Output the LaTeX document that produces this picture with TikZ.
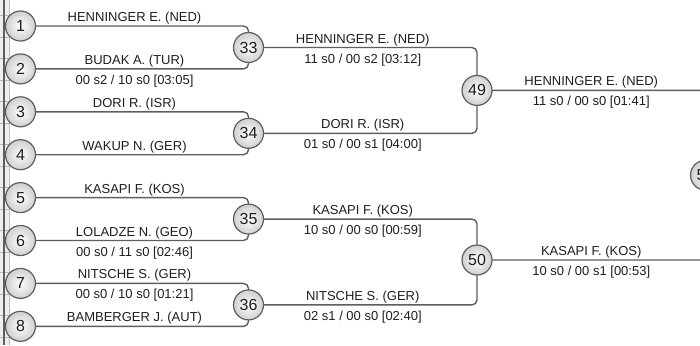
\documentclass[tikz,border=0pt]{standalone}
\usepackage{fontspec}
\setmainfont{Liberation Sans}
\usepackage{xcolor}
\usetikzlibrary{backgrounds}

\definecolor{linegray}{HTML}{5E5E5E}
\definecolor{ballgray}{HTML}{CFCFCF}
\definecolor{stripgray}{HTML}{EEEEEE}
\definecolor{textgray}{HTML}{1E1E1E}

\begin{document}
\begin{tikzpicture}[x=1bp,y=-1bp]
	\tikzstyle{ball}=[circle,draw=linegray,line width=1.2bp,inner color=white,outer color=ballgray,minimum size=30bp,inner sep=0pt,text=textgray,font=\fontsize{16bp}{16bp}\selectfont]
	\tikzstyle{link}=[draw=linegray,line width=1.4bp,rounded corners=5bp]
	\tikzstyle{player}=[anchor=base,yshift=4.5bp,inner sep=0pt,text=textgray,font=\fontsize{13bp}{13bp}\selectfont]
	\tikzstyle{result}=[anchor=base,yshift=-15.5bp,inner sep=0pt,text=textgray,font=\fontsize{13bp}{13bp}\selectfont]
	\useasboundingbox (0,0) rectangle (700,345);
	\clip (0,0) rectangle (700,345);

	% first round
	\node[ball](m1) at (20.5,26) {1};
	\node[ball](m2) at (20.5,68.9) {2};
	\node[ball](m3) at (20.5,111.8) {3};
	\node[ball](m4) at (20.5,154.7) {4};
	\node[ball](m5) at (20.5,197.6) {5};
	\node[ball](m6) at (20.5,240.5) {6};
	\node[ball](m7) at (20.5,283.4) {7};
	\node[ball](m8) at (20.5,326.3) {8};
	% second round
	\node[ball](m33) at (248.5,47.5) {33};
	\node[ball](m34) at (248.5,133.3) {34};
	\node[ball](m35) at (248.5,219.1) {35};
	\node[ball](m36) at (248.5,304.9) {36};
	% third round
	\node[ball](m49) at (477,90.4) {49};
	\node[ball](m50) at (477,260) {50};
	\node[ball](m57) at (705.5,175.2) {57};

	\begin{scope}[on background layer]
		\clip (0,0) rectangle (700,345);
		% strip on the left
		\fill[stripgray] (0,0) rectangle (9,345);
		\draw[linegray!40,line width=0.6bp] (9,0) -- (9,345);
		\foreach \y in {15,37,58,80,101,123,144,166,187,209,230,252,272,294,315,337}
			\draw[linegray!45,line width=0.6bp] (0,\y) -- (9,\y);
		\draw[linegray,line width=1.2bp] (4,0) -- (4,345);

		\draw[link] (m1.center) -| (m33.center) node[pos=0.25,player]{HENNINGER E. (NED)};
		\draw[link] (m2.center) -| (m33.center) node[pos=0.25,player]{BUDAK A. (TUR)} node[pos=0.25,result]{00 s2 / 10 s0 [03:05]};
		\draw[link] (m3.center) -| (m34.center) node[pos=0.25,player]{DORI R. (ISR)};
		\draw[link] (m4.center) -| (m34.center) node[pos=0.25,player]{WAKUP N. (GER)};
		\draw[link] (m5.center) -| (m35.center) node[pos=0.25,player]{KASAPI F. (KOS)};
		\draw[link] (m6.center) -| (m35.center) node[pos=0.25,player]{LOLADZE N. (GEO)} node[pos=0.25,result]{00 s0 / 11 s0 [02:46]};
		\draw[link] (m7.center) -| (m36.center) node[pos=0.25,player]{NITSCHE S. (GER)} node[pos=0.25,result]{00 s0 / 10 s0 [01:21]};
		\draw[link] (m8.center) -| (m36.center) node[pos=0.25,player]{BAMBERGER J. (AUT)};

		\draw[link] (m33.center) -| (m49.center) node[pos=0.25,player]{HENNINGER E. (NED)} node[pos=0.25,result]{11 s0 / 00 s2 [03:12]};
		\draw[link] (m34.center) -| (m49.center) node[pos=0.25,player]{DORI R. (ISR)} node[pos=0.25,result]{01 s0 / 00 s1 [04:00]};
		\draw[link] (m35.center) -| (m50.center) node[pos=0.25,player]{KASAPI F. (KOS)} node[pos=0.25,result]{10 s0 / 00 s0 [00:59]};
		\draw[link] (m36.center) -| (m50.center) node[pos=0.25,player]{NITSCHE S. (GER)} node[pos=0.25,result]{02 s1 / 00 s0 [02:40]};

		\draw[link] (m49.center) -| (m57.center) node[pos=0.25,player]{HENNINGER E. (NED)} node[pos=0.25,result]{11 s0 / 00 s0 [01:41]};
		\draw[link] (m50.center) -| (m57.center) node[pos=0.25,player]{KASAPI F. (KOS)} node[pos=0.25,result]{10 s0 / 00 s1 [00:53]};
	\end{scope}
\end{tikzpicture}
\end{document}
